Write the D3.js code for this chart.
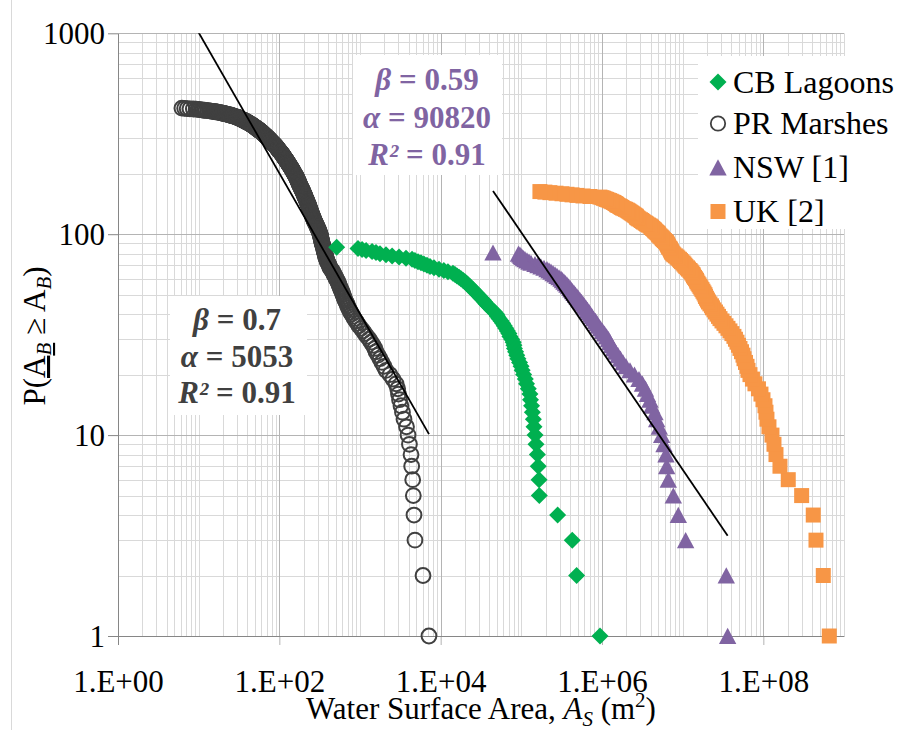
<!DOCTYPE html>
<html><head><meta charset="utf-8">
<script src="https://cdn.jsdelivr.net/npm/d3@7"></script>
<style>body{margin:0;background:#fff}svg{display:block}</style>
</head><body>
<svg id="chart" width="903" height="730"></svg>
<script>
// ---------------- data (areas in m², each series sorted largest first) ----------------
const seriesNames = ["CB Lagoons", "PR Marshes", "NSW [1]", "UK [2]"];

const cbAreas = [944000,485000,428000,282000,167000,166000,162000,158000,152000,148000,
143500,141000,137000,134000,130000,127800,122000,116000,112000,106800,
102500,99300,95000,90700,87700,84900,82200,81000,79300,75900,
72200,70100,67100,64100,61300,58700,56100,52900,50600,49300,
46500,43300,40800,38600,36400,35100,33600,31700,30300,29000,
27500,26300,25100,23800,22800,21800,20900,20000,18900,17880,
16880,15930,15050,14200,12300,10950,9530,8270,7380,6770,
6200,5700,5240,4800,4420,3720,3050,2500,2100,1770,
1580,1410,1190,1060,944,514];

const prAreas = [7160,6040,4800,4670,4580,4500,4370,4290,4100,3940,
3770,3510,3360,3220,3090,3000,2930,2800,2560,2350,
2100,1980,1870,1770,1670,1580,1530,1450,1370,1300,
1220,1150,1090,1030,970,930,890,850,820,790,
760,740,720,700,690,670,650,640,630,615,
605,595,580,570,560,550,540,534,520,505,
500,490,476,470,462,450,437,425,420,415,
408,400,395,390,385,379,376,375,372,368,
365,362,360,357,354,351,349,346,343,
340,338,336,334,332,330,328,326,324,322,320,318,
315,312,309,306,303,300,297,294,291,288,285,282,279,276,273,270,
268,266,264,262,260,258,256,254,252,250,248,246,245,243,241,240,
238,237,235,234,232,231,229,228,226,224,223,221,220,218,217,215,214,212,211,209,208,
207,205,204,203,201,200,199,197,196,195,193,192,191,189,188,187,185,184,183,181,180,
179,178,177,176,175,174,173,172,171,170,169,168,167,166,165,164,163,162,161,160,159,158,156,
155,154,153,152,151,150,149,148,147,146,145,144,143,142,141,140,139,138,137,136,135,134,133,132,
131,130,129,128.5,128,127,126,125,124,123,122,121.5,121,120,119,118,117,116,115,114.5,114,113,112.5,112,111,
110,109,108.5,108,107,106,105,104.5,104,103,102,101,100.5,100,99,98,97,96.5,96,95.5,95,94,93.5,
93,92,91.5,91,90,89,88.5,88,87,86,85.5,85,84,83,82.5,82,81,80.5,80,79,78.5,78,77,76.6,
76,75.5,75,74,73.5,73,72.5,72,71,70.5,70,69.5,69,68,67.5,67,66.5,66,65,64.5,64,63.5,63,62.5,62,61.5,61,
60.5,60,59.5,59,58,57.5,57,56.5,56,55.5,55,54.5,54,53,52.5,52,51.5,51,50.5,50,49.5,49,48.5,
48,47.5,47,46.5,46,45.5,45,44.5,44,43.5,43,42.5,42,41.5,41,40.5,40,39.5,39,38.6,
38,37.5,37,36.5,36,35.5,35,34.5,34,33.5,33,32.5,32,31.7,31.3,31,30.7,
30,29.5,29,28.3,27.7,27,26.5,26,25.5,25,24.5,
24,23.3,22.7,22,21.5,21,20.5,20,19.5,
19,18.4,17.8,17.2,16.6,16,15.5,
14.8,14.2,13.6,13,12.3,
11.8,11.3,10.8,10.3,9.8,
9.3,8.6,7.8,7.2,6.7,6.2];

const nswAreas = [36110000,34740000,10890000,8831000,7655000,6634000,6335000,6209000,5867000,5492000,
5129000,4761000,4538000,4129000,3934000,3661000,3458000,3174000,2873000,2527000,
2223000,1983000,1820000,1694000,1578000,1469000,1387000,1310000,1256000,1202000,
1138000,1074000,1014000,957200,903600,867000,829900,783400,751600,719500,
690200,660700,632400,606700,580800,557200,533300,510500,489800,468800,
449800,430500,412400,401000,384400,368100,352800,337800,323800,310500,
293200,276900,261500,247100,233300,220300,208000,190900,175200,160800,
147600,131700,124400,117500,111000,106400,101900,99000,96200,92200,44550];

const ukAreas = [657100000,553500000,449500000,415800000,298500000,203700000,160800000,143500000,135500000,128000000,
117400000,110900000,107800000,104800000,99000000,93460000,87000000,78700000,73280000,68290000,
64560000,62760000,60080000,57610000,55980000,53600000,51320000,49240000,47140000,45130000,
43200000,40810000,38560000,36430000,34420000,32510000,30720000,29020000,27800000,26630000,
25510000,24440000,23410000,22750000,21780000,20880000,20290000,19720000,19170000,18900000,
18370000,17850000,17350000,16860000,16390000,15930000,15480000,15040000,14830000,14420000,
14010000,13620000,13420000,13050000,12680000,12320000,11800000,11470000,10980000,10670000,
10370000,10080000,9652000,9381000,9118000,8731000,8486000,8125000,7780000,7562000,
7350000,7246000,7144000,7043000,6944000,6749000,6654000,6560000,6467000,6376000,
6286000,6110000,5939000,5772000,5611000,5532000,5377000,5226000,5080000,5008000,
4938000,4800000,4665000,4534000,4470000,4345000,4223000,4105000,4047000,3934000,
3769000,3611000,3510000,3411000,3268000,3176000,3087000,3000000,2873000,2793000,
2714000,2676000,2638000,2564000,2492000,2422000,2354000,2288000,2224000,2161000,
2100000,2041000,1956000,1875000,1796000,1745000,1696000,1648000,1579000,1535000,
1513000,1470000,1429000,1388000,1330000,1292000,1238000,1186000,1136000,1089000,
1043000,1000000,944000,710000,581000,490000,425000,368000,319000,269000,
226000,196000,170000];

const xTickValues = [1, 1e2, 1e4, 1e6, 1e8];
const xTickLabels = ["1.E+00", "1.E+02", "1.E+04", "1.E+06", "1.E+08"];
const yTickValues = [1, 10, 100, 1000];
const yTickLabels = ["1", "10", "100", "1000"];

const prFit  = {beta: 0.7,  alpha: 5053,  r2: "0.91", betaText: "0.7",  alphaText: "5053"};
const nswFit = {beta: 0.59, alpha: 90820, r2: "0.91", betaText: "0.59", alphaText: "90820"};

// ---------------- layout ----------------
const W = 903, H = 730;
const serif = "'Liberation Serif','Times New Roman',serif";
const P = {left: 118, right: 844, top: 33.3, bottom: 636};
const colors = {cb: "#00B050", pr: "#404040", nsw: "#8064A2", uk: "#F79646"};

const svg = d3.select("#chart");
svg.append("rect").attr("width", W).attr("height", H).attr("fill", "#fff");

const x = d3.scaleLog().domain([1, 1e9]).range([P.left, P.right]);
const y = d3.scaleLog().domain([1, 1000]).range([P.bottom, P.top]);

// outer chart border (left edge visible)
svg.append("line").attr("x1", 11.5).attr("x2", 11.5).attr("y1", 0).attr("y2", H)
  .attr("stroke", "#d9d9d9").attr("stroke-width", 1);

// exceedance counts: P(A >= a) = number of areas >= a
function exceed(areas) {
  const s = areas.slice().sort((a, b) => b - a);
  return s.map(a => ({a: a, p: s.filter(v => v >= a).length}));
}

// ---------------- grid ----------------
const grid = svg.append("g");
const xGrid = [];
for (let n = 0; n < 9; n++) for (let k = 1; k < 10; k++) xGrid.push({v: k * Math.pow(10, n), major: k === 1 && n % 2 === 0});
xGrid.push({v: 1e9, major: false});
const yGrid = [];
for (let n = 0; n < 3; n++) for (let k = 1; k < 10; k++) yGrid.push({v: k * Math.pow(10, n), major: k === 1});
yGrid.push({v: 1000, major: true});

grid.selectAll("line.gx").data(xGrid.filter(d => !d.major)).enter().append("line")
  .attr("x1", d => Math.round(x(d.v)) + 0.5).attr("x2", d => Math.round(x(d.v)) + 0.5)
  .attr("y1", P.top).attr("y2", P.bottom).attr("stroke", "#d9d9d9");
grid.selectAll("line.gy").data(yGrid.filter(d => !d.major)).enter().append("line")
  .attr("y1", d => Math.round(y(d.v)) + 0.5).attr("y2", d => Math.round(y(d.v)) + 0.5)
  .attr("x1", P.left).attr("x2", P.right).attr("stroke", "#d9d9d9");
grid.selectAll("line.gy2").data(yGrid.filter(d => d.major && d.v > 1)).enter().append("line")
  .attr("y1", d => Math.round(y(d.v)) + 0.5).attr("y2", d => Math.round(y(d.v)) + 0.5)
  .attr("x1", P.left).attr("x2", P.right).attr("stroke", "#b4b4b4");
grid.selectAll("line.gx2").data(xGrid.filter(d => d.major && d.v > 1)).enter().append("line")
  .attr("x1", d => Math.round(x(d.v)) + 0.5).attr("x2", d => Math.round(x(d.v)) + 0.5)
  .attr("y1", P.top).attr("y2", P.bottom).attr("stroke", "#b4b4b4");

// ---------------- white label boxes ----------------
svg.append("rect").attr("x", 353).attr("y", 55).attr("width", 149).attr("height", 120).attr("fill", "#fff");
svg.append("rect").attr("x", 170).attr("y", 296).attr("width", 137).attr("height", 119).attr("fill", "#fff");
svg.append("rect").attr("x", 698).attr("y", 56).attr("width", 200).attr("height", 173).attr("fill", "#fff");

// ---------------- axes ----------------
const xAxis = d3.axisBottom(x).tickValues(xTickValues).tickFormat((d, i) => xTickLabels[i])
  .tickSize(9).tickSizeOuter(0);
const gx = svg.append("g").attr("transform", `translate(0,${P.bottom})`).call(xAxis);
gx.select(".domain").attr("stroke", "#868686");
gx.selectAll(".tick line").attr("stroke", (d) => d === 1 ? "#868686" : "#b4b4b4");
gx.selectAll(".tick text").attr("y", 56).attr("dy", 0)
  .attr("font-family", serif).attr("font-size", 31).attr("fill", "#000");

const yAxis = d3.axisLeft(y).tickValues(yTickValues).tickFormat((d, i) => yTickLabels[i])
  .tickSize(10).tickSizeOuter(0);
const gy = svg.append("g").attr("transform", `translate(${P.left},0)`).call(yAxis);
gy.select(".domain").attr("stroke", "#868686");
gy.selectAll(".tick line").attr("stroke", "#868686");
gy.selectAll(".tick text").attr("x", -13).attr("dy", "0.34em")
  .attr("font-family", serif).attr("font-size", 31).attr("fill", "#000");
svg.append("line").attr("x1", P.left).attr("x2", P.right).attr("y1", P.bottom + 0.5).attr("y2", P.bottom + 0.5)
  .attr("stroke", "#868686");

// ---------------- series ----------------
const shapes = {
  diamond: "M0,-8.5L8.5,0L0,8.5L-8.5,0Z",
  triangle: "M0,-8.2L8.7,8L-8.7,8Z",
  square: "M-7.5,-7.5H7.5V7.5H-7.5Z"
};

const layer = svg.append("g");
// PR Marshes (open circles)
layer.append("g").selectAll("circle").data(exceed(prAreas)).enter().append("circle")
  .attr("cx", d => x(d.a)).attr("cy", d => y(d.p)).attr("r", 7.4)
  .attr("fill", "none").attr("stroke", colors.pr).attr("stroke-width", 2);
// CB Lagoons
layer.append("g").selectAll("path").data(exceed(cbAreas)).enter().append("path")
  .attr("d", shapes.diamond).attr("transform", d => `translate(${x(d.a)},${y(d.p)})`).attr("fill", colors.cb);
// NSW
layer.append("g").selectAll("path").data(exceed(nswAreas)).enter().append("path")
  .attr("d", shapes.triangle).attr("transform", d => `translate(${x(d.a)},${y(d.p)})`).attr("fill", colors.nsw);
// UK
layer.append("g").selectAll("path").data(exceed(ukAreas)).enter().append("path")
  .attr("d", shapes.square).attr("transform", d => `translate(${x(d.a)},${y(d.p)})`).attr("fill", colors.uk);

// ---------------- power-law trend lines ----------------
function trend(areas, fit) {
  const lo = d3.min(areas), hi = d3.max(areas);
  return [lo, hi].map(a => [a, fit.alpha * Math.pow(a, -fit.beta)]);
}
svg.append("clipPath").attr("id", "topclip").append("rect")
  .attr("x", P.left).attr("y", P.top).attr("width", P.right - P.left).attr("height", P.bottom - P.top);
const tl = svg.append("g").attr("clip-path", "url(#topclip)");
const line = d3.line().x(d => x(d[0])).y(d => y(d[1]));
tl.append("path").attr("d", line(trend(prAreas, prFit)))
  .attr("stroke", "#000").attr("stroke-width", 1.8).attr("fill", "none");
tl.append("path").attr("d", line(trend(nswAreas, nswFit)))
  .attr("stroke", "#000").attr("stroke-width", 1.8).attr("fill", "none");

// ---------------- fit annotations ----------------
function annotate(cx, baseline, spacing, fit, color) {
  const rows = [["β", " = " + fit.betaText], ["α", " = " + fit.alphaText], ["R²", " = " + fit.r2]];
  rows.forEach((r, i) => {
    const t = svg.append("text").attr("x", cx).attr("y", baseline + i * spacing)
      .attr("text-anchor", "middle").attr("font-family", serif).attr("font-size", 31)
      .attr("font-weight", "bold").attr("fill", color);
    t.append("tspan").attr("font-style", "italic").text(r[0]);
    t.append("tspan").text(r[1]);
  });
}
annotate(427, 90, 37.5, nswFit, colors.nsw);
annotate(237, 330, 36.5, prFit, "#404040");

// ---------------- legend ----------------
const legendRows = [
  {name: seriesNames[0], type: "diamond", color: colors.cb},
  {name: seriesNames[1], type: "circle", color: colors.pr},
  {name: seriesNames[2], type: "triangle", color: colors.nsw},
  {name: seriesNames[3], type: "square", color: colors.uk}
];
const legendY = [82, 123.5, 167.5, 211.5];
legendRows.forEach((r, i) => {
  const g = svg.append("g").attr("transform", `translate(718,${legendY[i]})`);
  if (r.type === "circle") {
    g.append("circle").attr("r", 7.2).attr("fill", "none").attr("stroke", r.color).attr("stroke-width", 1.8);
  } else {
    g.append("path").attr("d", shapes[r.type]).attr("fill", r.color);
  }
  g.append("text").attr("x", 15).attr("y", 10.5).attr("font-family", serif).attr("font-size", 32)
    .attr("fill", "#000").text(r.name);
});

// ---------------- axis titles ----------------
const xt = svg.append("text").attr("x", (P.left + P.right) / 2).attr("y", 719)
  .attr("text-anchor", "middle").attr("font-family", serif).attr("font-size", 31).attr("fill", "#000");
xt.append("tspan").text("Water Surface Area, ");
xt.append("tspan").attr("font-style", "italic").text("A");
xt.append("tspan").attr("font-style", "italic").attr("font-size", 21).attr("dy", 7).text("S");
xt.append("tspan").attr("dy", -7).text(" (m");
xt.append("tspan").attr("font-size", 21).attr("dy", -12).text("2");
xt.append("tspan").attr("dy", 12).text(")");

const yt = svg.append("text").attr("transform", "translate(45,336) rotate(-90)")
  .attr("text-anchor", "middle").attr("font-family", serif).attr("font-size", 31).attr("fill", "#000");
yt.append("tspan").text("P(");
yt.append("tspan").attr("text-decoration", "underline").text("A");
yt.append("tspan").attr("font-style", "italic").attr("font-size", 21).attr("dy", 6).attr("text-decoration", "underline").text("B");
yt.append("tspan").attr("dy", -6).text(" ≥ A");
yt.append("tspan").attr("font-style", "italic").attr("font-size", 21).attr("dy", 6).text("B");
yt.append("tspan").attr("dy", -6).text(")");
</script>
</body></html>
